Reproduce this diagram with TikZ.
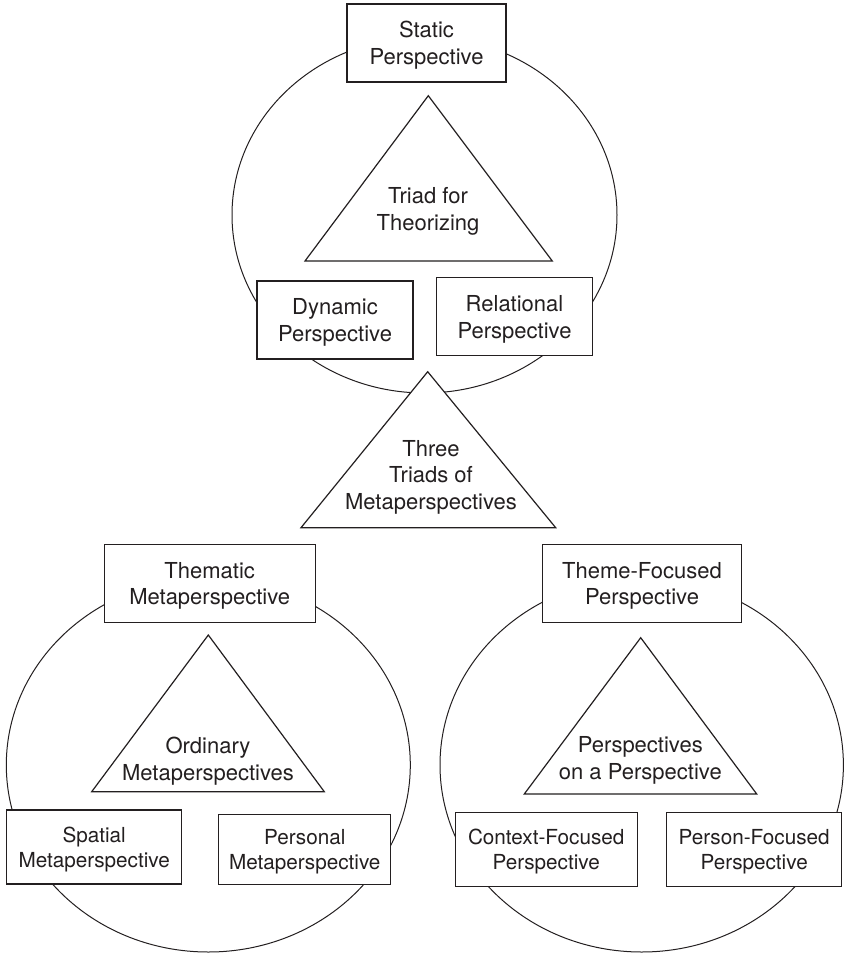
\documentclass[tikz,border=0pt]{standalone}
\usepackage{fontspec}
\setmainfont{TeX Gyre Heros}
\definecolor{ink}{HTML}{231F20}

\begin{document}
\begin{tikzpicture}[x=1pt,y=-1pt,font=\fontsize{22}{26.7}\selectfont,text=ink,
    ring/.style={draw=ink,line width=1pt},
    tri/.style={draw=ink,fill=white,line width=1.2pt},
    box/.style={draw=ink,fill=white,line width=1.3pt,align=center,inner sep=0pt,text depth=0pt},
    small/.style={font=\fontsize{20.7}{25}\selectfont},
    lbl/.style={align=center,inner sep=0pt,anchor=north}]
    \useasboundingbox (0,0) rectangle (844,954);
    \draw[ring] (424.5,215) ellipse [x radius=192.5,y radius=178];
    \draw[ring] (208.3,765) ellipse [x radius=202,y radius=187];
    \draw[ring] (641.7,765) ellipse [x radius=201.7,y radius=187];
    \draw[tri] (428.3,95.7) -- (552.3,261) -- (305,261) -- cycle;
    \draw[tri] (427.7,371.7) -- (555.7,527.7) -- (301,527.7) -- cycle;
    \draw[tri] (208.3,635) -- (324.3,791.7) -- (91.7,791.7) -- cycle;
    \draw[tri] (640.7,637.7) -- (756.7,794) -- (524.3,794) -- cycle;
    \node[lbl] (theorizing) at (428,187) {Triad for\\Theorizing};
    \node[lbl] (threetriads) at (431,440) {Three\\Triads of\\Metaperspectives};
    \node[lbl] (ordinary) at (208,736.7) {Ordinary\\Metaperspectives};
    \node[lbl] (ponp) at (640.3,736.7) {Perspectives\\on a Perspective};
    \node[box,minimum width=159pt,minimum height=78pt] (static) at (426.5,43) {Static\\Perspective};
    \node[box,minimum width=156pt,minimum height=78pt] (dynamic) at (335,320) {Dynamic\\Perspective};
    \node[box,minimum width=156pt,minimum height=78pt] (relational) at (514.5,316.7) {Relational\\Perspective};
    \node[box,minimum width=211pt,minimum height=78pt] (thematic) at (209.7,583.5) {Thematic\\Metaperspective};
    \node[box,small,minimum width=175pt,minimum height=74pt] (spatial) at (94.2,847) {Spatial\\Metaperspective};
    \node[box,small,minimum width=172pt,minimum height=70pt] (personal) at (304.8,849.2) {Personal\\Metaperspective};
    \node[box,minimum width=199pt,minimum height=78pt] (themefocused) at (642,583.5) {Theme-Focused\\Perspective};
    \node[box,small,minimum width=182pt,minimum height=74pt] (contextfocused) at (546.2,849.5) {Context-Focused\\Perspective};
    \node[box,small,minimum width=175pt,minimum height=74pt] (personfocused) at (754.2,849.5) {Person-Focused\\Perspective};
\end{tikzpicture}
\end{document}
